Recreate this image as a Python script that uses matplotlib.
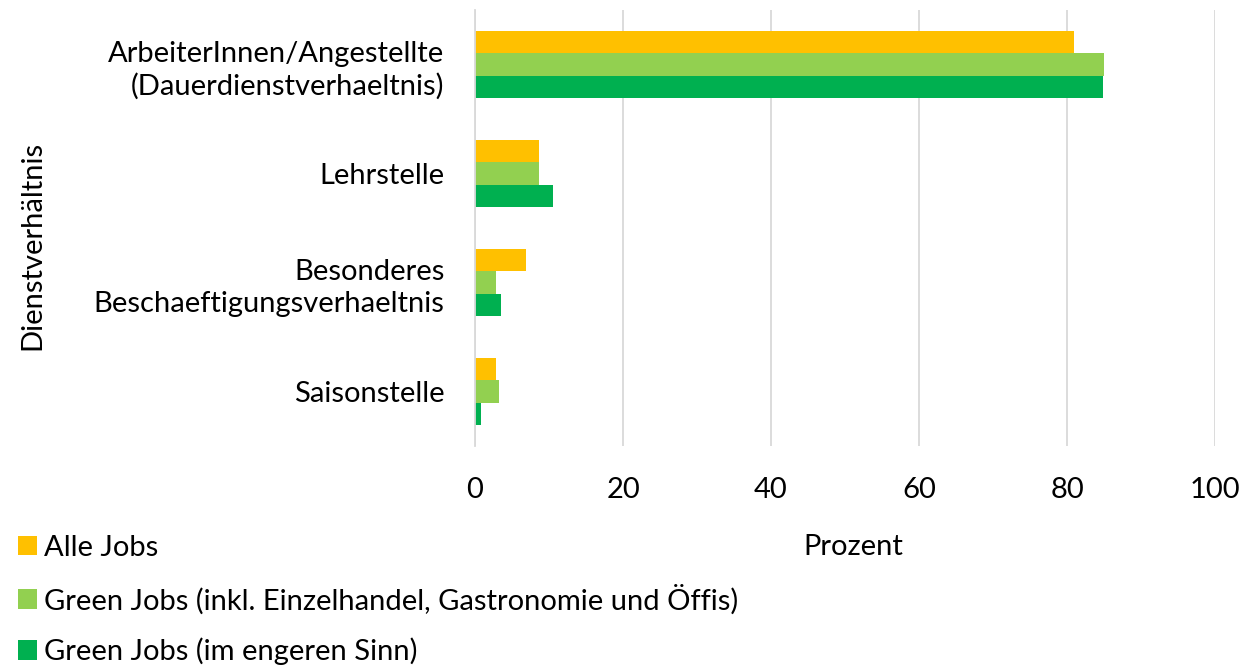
import matplotlib
matplotlib.use("Agg")
import matplotlib.pyplot as plt
import numpy as np
from matplotlib.patches import Patch

plt.rcParams['font.family'] = ['Lato', 'DejaVu Sans']

categories = ["ArbeiterInnen/Angestellte\n(Dauerdienstverhaeltnis)", "Lehrstelle",
              "Besonderes\nBeschaeftigungsverhaeltnis", "Saisonstelle"]
series_names = ["Alle Jobs",
                "Green Jobs (inkl. Einzelhandel, Gastronomie und Öffis)",
                "Green Jobs (im engeren Sinn)"]
alle_jobs = [81.0, 8.7, 6.9, 2.8]
green_inkl = [85.0, 8.7, 2.9, 3.2]
green_eng = [84.8, 10.6, 3.5, 0.8]
colors = ["#FFC000", "#92D050", "#00B050"]
xticks = [0, 20, 40, 60, 80, 100]

FS = 21
W, H = 1247, 670
fig = plt.figure(figsize=(W / 100, H / 100), dpi=100)
ax = fig.add_axes([475 / W, 1 - 446 / H, 740 / W, 436 / H])

y = np.arange(len(categories))
bh = 0.205
for i, (vals, c) in enumerate(zip([alle_jobs, green_inkl, green_eng], colors)):
    ax.barh(y + (i - 1) * bh, vals, height=bh, color=c, zorder=3)

ax.set_xlim(0, 100)
ax.set_ylim(len(categories) - 0.5, -0.5)
ax.set_xticks(xticks)
ax.set_xticklabels([str(t) for t in xticks], fontsize=FS)
ax.set_yticks(y)
ax.set_yticklabels(categories, fontsize=FS, multialignment='right', linespacing=1.3)
ax.tick_params(axis='both', length=0)
ax.tick_params(axis='y', pad=22)
ax.tick_params(axis='x', pad=22)
ax.grid(axis='x', color='#D9D9D9', linewidth=1.3, zorder=0)
for s in ['top', 'right', 'bottom']:
    ax.spines[s].set_visible(False)
ax.spines['left'].set_color('#D9D9D9')
ax.spines['left'].set_linewidth(1.3)
ax.spines['left'].set_zorder(4)

fig.text(32 / W, 1 - 245 / H, "Dienstverhältnis", rotation=90, fontsize=FS,
         ha='center', va='center')
fig.text(853 / W, 1 - 547 / H, "Prozent", fontsize=FS, ha='center', va='center')

handles = [Patch(facecolor=c, edgecolor='none') for c in colors]
fig.legend(handles, series_names, loc='upper left', bbox_to_anchor=(6 / W, 1 - 523 / H),
           frameon=False, fontsize=FS, handlelength=0.65, handleheight=0.65,
           handletextpad=0.25, labelspacing=0.8, borderaxespad=0)

fig.savefig("out.png", dpi=100)
